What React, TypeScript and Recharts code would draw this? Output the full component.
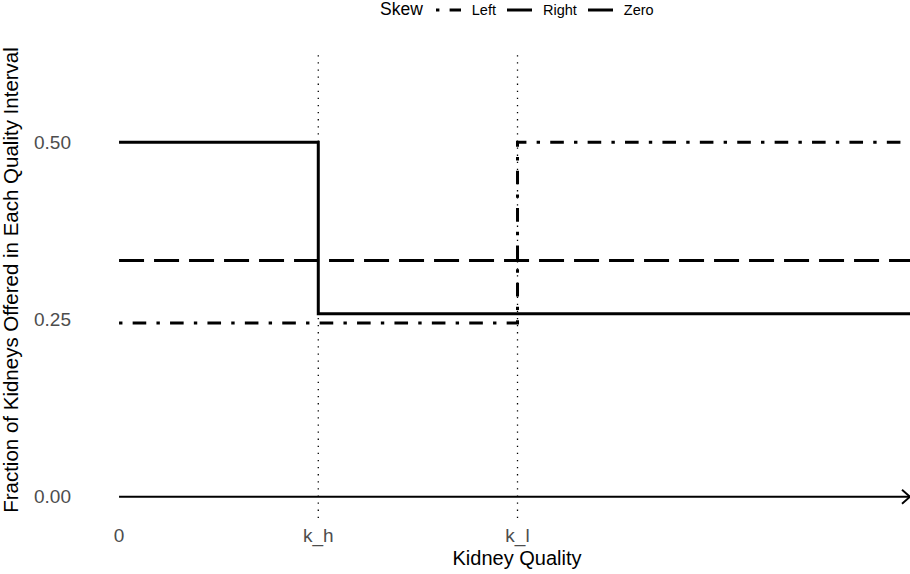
import React from "react";
import { LineChart, Line, XAxis, YAxis, ReferenceLine, Legend } from "recharts";

// ---- data ----
const xTickValues = [0, 1, 2];
const xTickLabels = ["0", "k_h", "k_l"];
const yTickValues = [0, 0.25, 0.5];
const yTickLabels = ["0.00", "0.25", "0.50"];

const skewNames = ["Left", "Right", "Zero"];
const leftX = [0, 2, 2, 3.97];
const leftY = [0.245, 0.245, 0.5, 0.5];
const rightX = [0, 1, 1, 3.97];
const rightY = [0.5, 0.5, 0.258, 0.258];
const zeroX = [0, 3.97];
const zeroY = [0.333, 0.333];
const cutoffs = [1, 2];
const axisArrowX = [0, 3.97];

const toPts = (xs: number[], ys: number[]) => xs.map((x, i) => ({ x, y: ys[i] }));
const leftData = toPts(leftX, leftY);
const rightData = toPts(rightX, rightY);
const zeroData = toPts(zeroX, zeroY);

const FONT = "'Liberation Sans', Arial, Helvetica, sans-serif";
const DASH_LEFT = "3.4 10.2 13.6 10.2";
const DASH_ZERO = "25 10";
const dashes = [DASH_LEFT, undefined, DASH_ZERO];

const LegendContent = () => (
  <div style={{ display: "flex", alignItems: "center", height: 19, fontFamily: FONT, color: "#000", whiteSpace: "nowrap" }}>
    <span style={{ fontSize: 17.5, marginRight: 13 }}>Skew</span>
    {skewNames.map((n, i) => (
      <React.Fragment key={n}>
        <svg width={25} height={8} style={{ display: "block" }}>
          <line x1={0} y1={4} x2={25} y2={4} stroke="#000" strokeWidth={3} strokeDasharray={dashes[i]} />
        </svg>
        <span style={{ fontSize: 14.5, marginLeft: 11, marginRight: i < 2 ? 11 : 0 }}>{n}</span>
      </React.Fragment>
    ))}
  </div>
);

const YTitle = (props: any) => {
  const vb = props.viewBox || { x: 0, y: 50, width: 80, height: 468 };
  const x = vb.x + 17.5;
  const y = vb.y + vb.height / 2 - 4;
  return (
    <text x={x} y={y} transform={`rotate(-90, ${x}, ${y})`} textAnchor="middle" fontSize={20.5} fontFamily={FONT} fill="#000">
      Fraction of Kidneys Offered in Each Quality Interval
    </text>
  );
};

const XTitle = (props: any) => {
  const vb = props.viewBox || { x: 80, y: 518, width: 830, height: 56 };
  return (
    <text x={vb.x + 437} y={vb.y + 47} textAnchor="middle" fontSize={20} fontFamily={FONT} fill="#000">
      Kidney Quality
    </text>
  );
};

const ArrowShape = (props: any) => {
  const { x1, y1, x2, y2 } = props;
  return (
    <g>
      <line x1={x1} y1={y1} x2={x2} y2={y2} stroke="#000" strokeWidth={1.9} />
      <polyline points={`${x2 - 8},${y2 - 7} ${x2},${y2} ${x2 - 8},${y2 + 7}`} fill="none" stroke="#000" strokeWidth={1.9} />
    </g>
  );
};

export default function App() {
  return (
    <div style={{ position: "absolute", left: 0, top: 0, width: 910, height: 574, background: "#fff", fontFamily: FONT }}>
      <LineChart width={910} height={574} margin={{ top: 50, right: 0, bottom: 0, left: 0 }}>
        <XAxis
          type="number"
          dataKey="x"
          domain={[-0.196, 3.97]}
          allowDataOverflow
          ticks={xTickValues}
          tickFormatter={(v: number) => xTickLabels[xTickValues.indexOf(v)] ?? ""}
          axisLine={false}
          tickLine={false}
          tickSize={0}
          tickMargin={11}
          height={56}
          tick={{ fill: "#4d4d4d", fontSize: 19, fontFamily: FONT }}
          label={XTitle}
        />
        <YAxis
          type="number"
          dataKey="y"
          domain={[-0.03, 0.63]}
          allowDataOverflow
          ticks={yTickValues}
          tickFormatter={(v: number) => yTickLabels[yTickValues.indexOf(v)] ?? ""}
          axisLine={false}
          tickLine={false}
          tickSize={0}
          tickMargin={9}
          width={80}
          tick={{ fill: "#4d4d4d", fontSize: 19, fontFamily: FONT }}
          label={YTitle}
        />
        <Legend
          layout="horizontal"
          verticalAlign="middle"
          align="center"
          content={LegendContent}
          wrapperStyle={{ top: 0, left: 380, width: 320, height: 19 }}
        />
        {cutoffs.map((c) => (
          <ReferenceLine key={c} x={c} stroke="#000" strokeWidth={1.3} strokeDasharray="1.3 5.8" />
        ))}
        <ReferenceLine
          segment={[{ x: axisArrowX[0], y: 0 }, { x: axisArrowX[1], y: 0 }]}
          shape={ArrowShape}
        />
        <Line data={zeroData} dataKey="y" name={skewNames[2]} stroke="#000" strokeWidth={3} strokeDasharray={DASH_ZERO} dot={false} activeDot={false} isAnimationActive={false} legendType="none" />
        <Line data={leftData} dataKey="y" name={skewNames[0]} stroke="#000" strokeWidth={3} strokeDasharray={DASH_LEFT} dot={false} activeDot={false} isAnimationActive={false} legendType="none" />
        <Line data={rightData} dataKey="y" name={skewNames[1]} stroke="#000" strokeWidth={3} dot={false} activeDot={false} isAnimationActive={false} legendType="none" />
      </LineChart>
    </div>
  );
}
